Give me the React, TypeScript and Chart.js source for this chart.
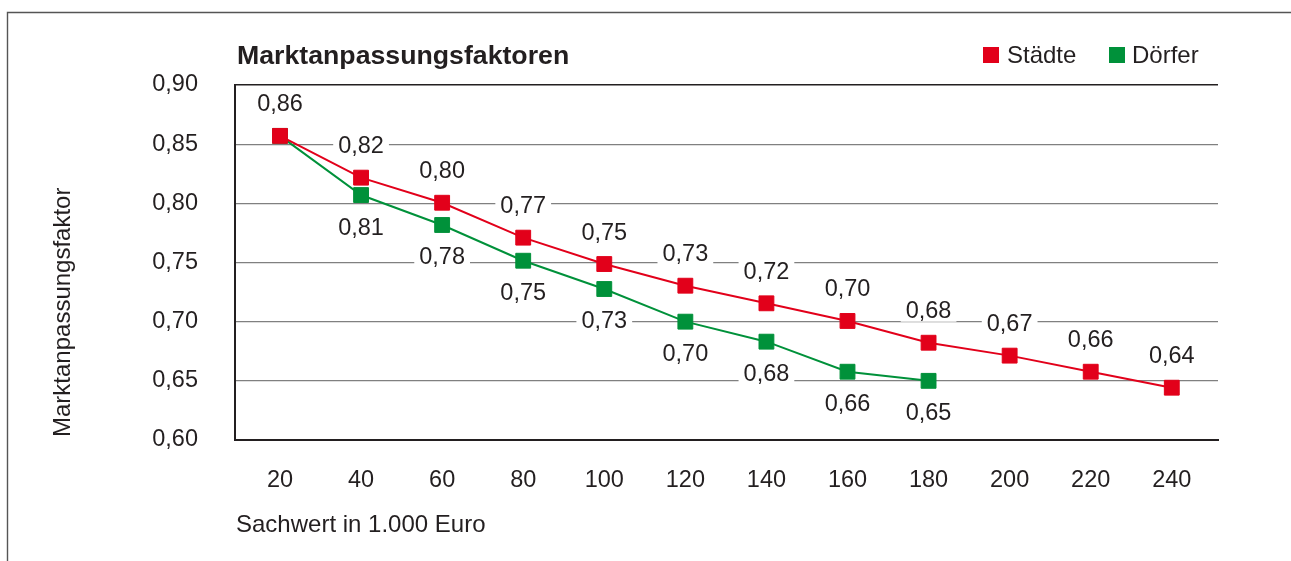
import { useEffect, useRef } from "react";
import { Chart, registerables } from "chart.js";

Chart.register(...registerables);

const FONT = "'Liberation Sans', Arial, Helvetica, sans-serif";
const TEXT_COLOR = "#231f20";
const RED = "#e2001a";
const GREEN = "#00913a";

const chartTitle = "Marktanpassungsfaktoren";
const xAxisTitle = "Sachwert in 1.000 Euro";
const yAxisTitle = "Marktanpassungsfaktor";

// Sachwert in 1.000 Euro
const categories = [20, 40, 60, 80, 100, 120, 140, 160, 180, 200, 220, 240];
const xMin = 8.9;
const xMax = 251.4;

const staedteName = "Städte";
const staedteValues = [0.857, 0.8217, 0.8005, 0.771, 0.7487, 0.7304, 0.7155, 0.7006, 0.6822, 0.6713, 0.6577, 0.6442];
const staedteLabels = ["0,86", "0,82", "0,80", "0,77", "0,75", "0,73", "0,72", "0,70", "0,68", "0,67", "0,66", "0,64"];

const doerferName = "Dörfer";
const doerferValues = [0.857, 0.807, 0.7817, 0.7515, 0.7276, 0.7, 0.6831, 0.6577, 0.65, null, null, null];
const doerferLabels = [null, "0,81", "0,78", "0,75", "0,73", "0,70", "0,68", "0,66", "0,65", null, null, null];

const yMin = 0.6;
const yMax = 0.9;
const yStep = 0.05;

const toPoints = (vals: (number | null)[]) =>
  categories.map((c, i) => ({ x: c, y: vals[i] }));

const overlayPlugin = {
  id: "overlay",
  beforeDatasetsDraw(chart: any) {
    const ctx = chart.ctx as CanvasRenderingContext2D;
    ctx.save();
    ctx.font = `23.5px ${FONT}`;
    ctx.textAlign = "center";
    ctx.textBaseline = "middle";
    const sets = [
      { labels: staedteLabels, dir: -1 },
      { labels: doerferLabels, dir: 1 },
    ];
    sets.forEach((s, di) => {
      const meta = chart.getDatasetMeta(di);
      meta.data.forEach((pt: any, i: number) => {
        const t = s.labels[i];
        if (!t || pt.skip) return;
        const x = pt.x;
        const y = pt.y + s.dir * 32;
        const w = ctx.measureText(t).width;
        ctx.fillStyle = "#ffffff";
        ctx.fillRect(x - w / 2 - 5, y - 11, w + 10, 22);
        ctx.fillStyle = TEXT_COLOR;
        ctx.fillText(t, x, y + 1);
      });
    });
    ctx.restore();
  },
  afterDraw(chart: any) {
    const ctx = chart.ctx as CanvasRenderingContext2D;
    const area = chart.chartArea;
    ctx.save();
    // frame
    ctx.strokeStyle = "#555555";
    ctx.lineWidth = 1.4;
    ctx.beginPath();
    ctx.moveTo(7.5, chart.height);
    ctx.lineTo(7.5, 12.5);
    ctx.lineTo(chart.width, 12.5);
    ctx.stroke();

    // title
    ctx.fillStyle = TEXT_COLOR;
    ctx.textBaseline = "alphabetic";
    ctx.textAlign = "left";
    ctx.font = `bold 26.7px ${FONT}`;
    ctx.fillText(chartTitle, area.left + 2, 64);

    // legend
    ctx.font = `24px ${FONT}`;
    ctx.fillStyle = RED;
    ctx.fillRect(983, 47, 16, 16);
    ctx.fillStyle = TEXT_COLOR;
    ctx.fillText(staedteName, 1007, 63);
    ctx.fillStyle = GREEN;
    ctx.fillRect(1109, 47, 16, 16);
    ctx.fillStyle = TEXT_COLOR;
    ctx.fillText(doerferName, 1132, 63);

    // x axis title
    ctx.fillText(xAxisTitle, area.left + 1, 532);

    // y axis title
    ctx.translate(70, area.bottom - 3);
    ctx.rotate(-Math.PI / 2);
    ctx.fillText(yAxisTitle, 0, 0);
    ctx.restore();
  },
};

export default function App() {
  const canvasRef = useRef<HTMLCanvasElement | null>(null);

  useEffect(() => {
    const canvas = canvasRef.current;
    if (!canvas) return;
    const chart = new Chart(canvas, {
      type: "line",
      data: {
        datasets: [
          {
            label: staedteName,
            data: toPoints(staedteValues),
            borderColor: RED,
            backgroundColor: RED,
            borderWidth: 2,
            pointStyle: "rect",
            pointRadius: 10.5,
            pointBorderWidth: 1,
            pointBorderColor: RED,
            pointBackgroundColor: RED,
            tension: 0,
          },
          {
            label: doerferName,
            data: toPoints(doerferValues),
            borderColor: GREEN,
            backgroundColor: GREEN,
            borderWidth: 2,
            pointStyle: "rect",
            pointRadius: 10.5,
            pointBorderWidth: 1,
            pointBorderColor: GREEN,
            pointBackgroundColor: GREEN,
            tension: 0,
            spanGaps: false,
          },
        ],
      },
      options: {
        animation: false,
        responsive: true,
        maintainAspectRatio: false,
        layout: { padding: { left: 0, top: 85, right: 73, bottom: 0 } },
        plugins: {
          legend: { display: false },
          title: { display: false },
          tooltip: { enabled: false },
        },
        scales: {
          x: {
            type: "linear",
            min: xMin,
            max: xMax,
            grid: { display: false, drawTicks: false },
            border: { display: true, color: "#231f20", width: 2 },
            ticks: {
              color: TEXT_COLOR,
              font: { family: FONT, size: 23.5 },
              padding: 26,
              maxRotation: 0,
              autoSkip: false,
              callback: (v: any) => String(v),
            },
            afterBuildTicks(scale: any) {
              scale.ticks = categories.map((c) => ({ value: c }));
            },
            afterFit(scale: any) {
              scale.height = 121;
            },
          },
          y: {
            min: yMin,
            max: yMax,
            grid: {
              drawTicks: false,
              color: (c: any) => (c.tick && Math.abs(c.tick.value - yMax) < 1e-6 ? "#231f20" : "#808080"),
              lineWidth: (c: any) => (c.tick && Math.abs(c.tick.value - yMax) < 1e-6 ? 1.5 : 1.2),
            },
            border: { display: true, color: "#231f20", width: 2 },
            ticks: {
              stepSize: yStep,
              color: TEXT_COLOR,
              font: { family: FONT, size: 23.5 },
              padding: 37,
              callback: (v: any) => Number(v).toFixed(2).replace(".", ","),
            },
            afterFit(scale: any) {
              scale.width = 235;
            },
          },
        },
      },
      plugins: [overlayPlugin],
    });
    return () => chart.destroy();
  }, []);

  return (
    <div style={{ position: "fixed", left: 0, top: 0, width: 1291, height: 561, background: "#fff" }}>
      <canvas ref={canvasRef} />
    </div>
  );
}
